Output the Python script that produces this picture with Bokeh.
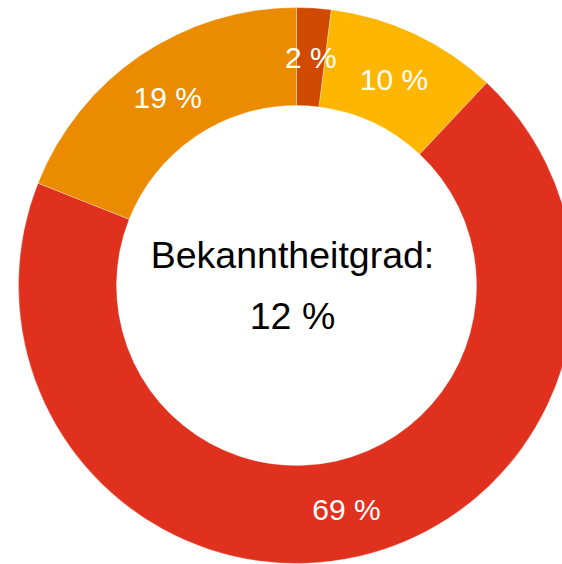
import numpy as np
from bokeh.plotting import figure
from bokeh.models import Range1d, ColumnDataSource
from bokeh.core.properties import value
from bokeh.embed import file_html
from bokeh.resources import INLINE

# ---- data ----
labels = ["2 %", "10 %", "69 %", "19 %"]
values = [2, 10, 69, 19]
colors = ["#D04A02", "#FFB600", "#E0301E", "#EB8C00"]
center_title = "Bekanntheitgrad:"
center_value = "12 %"

W, H = 562, 564
p = figure(width=W, height=H, output_backend="svg", toolbar_location=None,
           x_range=Range1d(0, W), y_range=Range1d(0, H),
           min_border=0, outline_line_color=None)
p.axis.visible = False
p.grid.visible = False
p.background_fill_color = "white"
p.border_fill_color = "white"

cx, cy = 296, 279
r_in, r_out = 180, 278
r_lab = (r_in + r_out) / 2

vals = np.array(values, dtype=float)
frac = vals / vals.sum()
theta1 = np.cumsum(frac) * 2 * np.pi
theta0 = theta1 - frac * 2 * np.pi
start = np.pi / 2 - theta1
end = np.pi / 2 - theta0
mid = (theta0 + theta1) / 2

src = ColumnDataSource(dict(start=start, end=end, color=colors))
p.annular_wedge(x=cx, y=cy, inner_radius=r_in, outer_radius=r_out,
                start_angle="start", end_angle="end", fill_color="color",
                line_color="white", line_width=0.5, line_alpha=0.6,
                direction="anticlock", source=src)

lab_fs = 30
lx = cx + r_lab * np.sin(mid)
ly = cy + r_lab * np.cos(mid) - 1
p.text(x=lx, y=ly, text=labels, text_color="white", text_align="center",
       text_baseline="middle", text_font=value("Liberation Sans"),
       text_font_size=f"{lab_fs}px")

c_fs = 37.5
p.text(x=[cx - 4, cx - 4], y=[cy + 31, cy - 30], text=[center_title, center_value],
       text_color="black", text_align="center", text_baseline="middle",
       text_font=value("Liberation Sans"), text_font_size=f"{c_fs}px")

open("out.html", "w").write(file_html(p, INLINE))
